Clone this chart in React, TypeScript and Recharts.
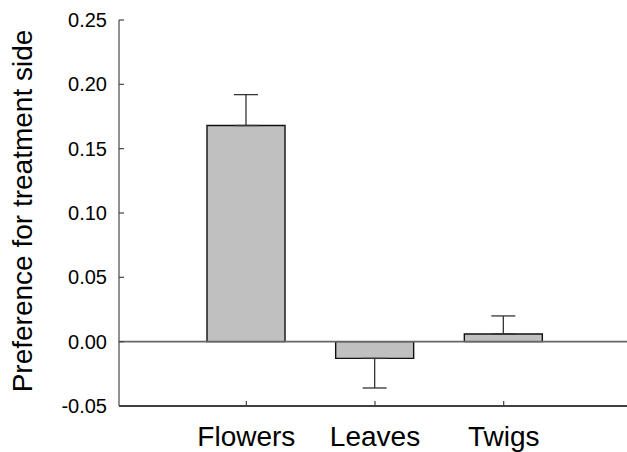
import React from "react";
import { Bar, BarChart, ErrorBar, ReferenceLine, XAxis, YAxis } from "recharts";

const plantParts = ["Flowers", "Leaves", "Twigs"];
const preference = [0.168, -0.013, 0.006];
const sem = [0.024, 0.023, 0.014];
const yTicks = [-0.05, 0, 0.05, 0.1, 0.15, 0.2, 0.25];

// whiskers only point away from zero
const data = plantParts.map((part, i) => ({
  part,
  preference: preference[i],
  err: preference[i] >= 0 ? [0, sem[i]] : [sem[i], 0]
}));

const FONT = "Arial, 'Liberation Sans', Helvetica, sans-serif";

function YTick(props: any) {
  const { x, y, payload } = props;
  return (
    <g>
      <line x1={x} x2={x + 5} y1={y} y2={y} stroke="#444" strokeWidth={1.2} />
      <text x={x - 12} y={y} dy="0.355em" textAnchor="end" fontSize={20} fontFamily={FONT} fill="#000">
        {Number(payload.value).toFixed(2)}
      </text>
    </g>
  );
}

function XTick(props: any) {
  const { x, y, payload } = props;
  return (
    <g>
      <line x1={x} x2={x} y1={y} y2={y - 5} stroke="#444" strokeWidth={1.2} />
      <text x={x} y={y + 20} dy="0.71em" textAnchor="middle" fontSize={28} fontFamily={FONT} fill="#000">
        {payload.value}
      </text>
    </g>
  );
}

function YTitle() {
  return (
    <text
      x={32}
      y={211}
      transform="rotate(-90, 32, 211)"
      textAnchor="middle"
      fontSize={28}
      fontFamily={FONT}
      fill="#000"
    >
      Preference for treatment side
    </text>
  );
}

export default function App() {
  return (
    <div style={{ position: "absolute", left: 0, top: 0, width: 627, height: 452, background: "#fff" }}>
      <BarChart width={627} height={452} data={data} margin={{ top: 20, right: 0, bottom: 0, left: 0 }}>
        <XAxis
          dataKey="part"
          height={46}
          padding={{ left: 63, right: 59 }}
          tickSize={0}
          tickMargin={0}
          tick={<XTick />}
          axisLine={{ stroke: "#000", strokeWidth: 1.3 }}
          interval={0}
        />
        <YAxis
          width={119}
          domain={[-0.05, 0.25]}
          ticks={yTicks}
          tickSize={0}
          tickMargin={0}
          tick={<YTick />}
          axisLine={{ stroke: "#555", strokeWidth: 1.3 }}
          allowDataOverflow
          label={{ content: () => <YTitle /> }}
        />
        <ReferenceLine y={0} stroke="#666" strokeWidth={1.6} />
        <Bar
          dataKey="preference"
          barSize={78}
          fill="#c0c0c0"
          stroke="#111"
          strokeWidth={1.4}
          isAnimationActive={false}
        >
          <ErrorBar dataKey="err" width={12} stroke="#333" strokeWidth={1.3} isAnimationActive={false} />
        </Bar>
      </BarChart>
    </div>
  );
}
